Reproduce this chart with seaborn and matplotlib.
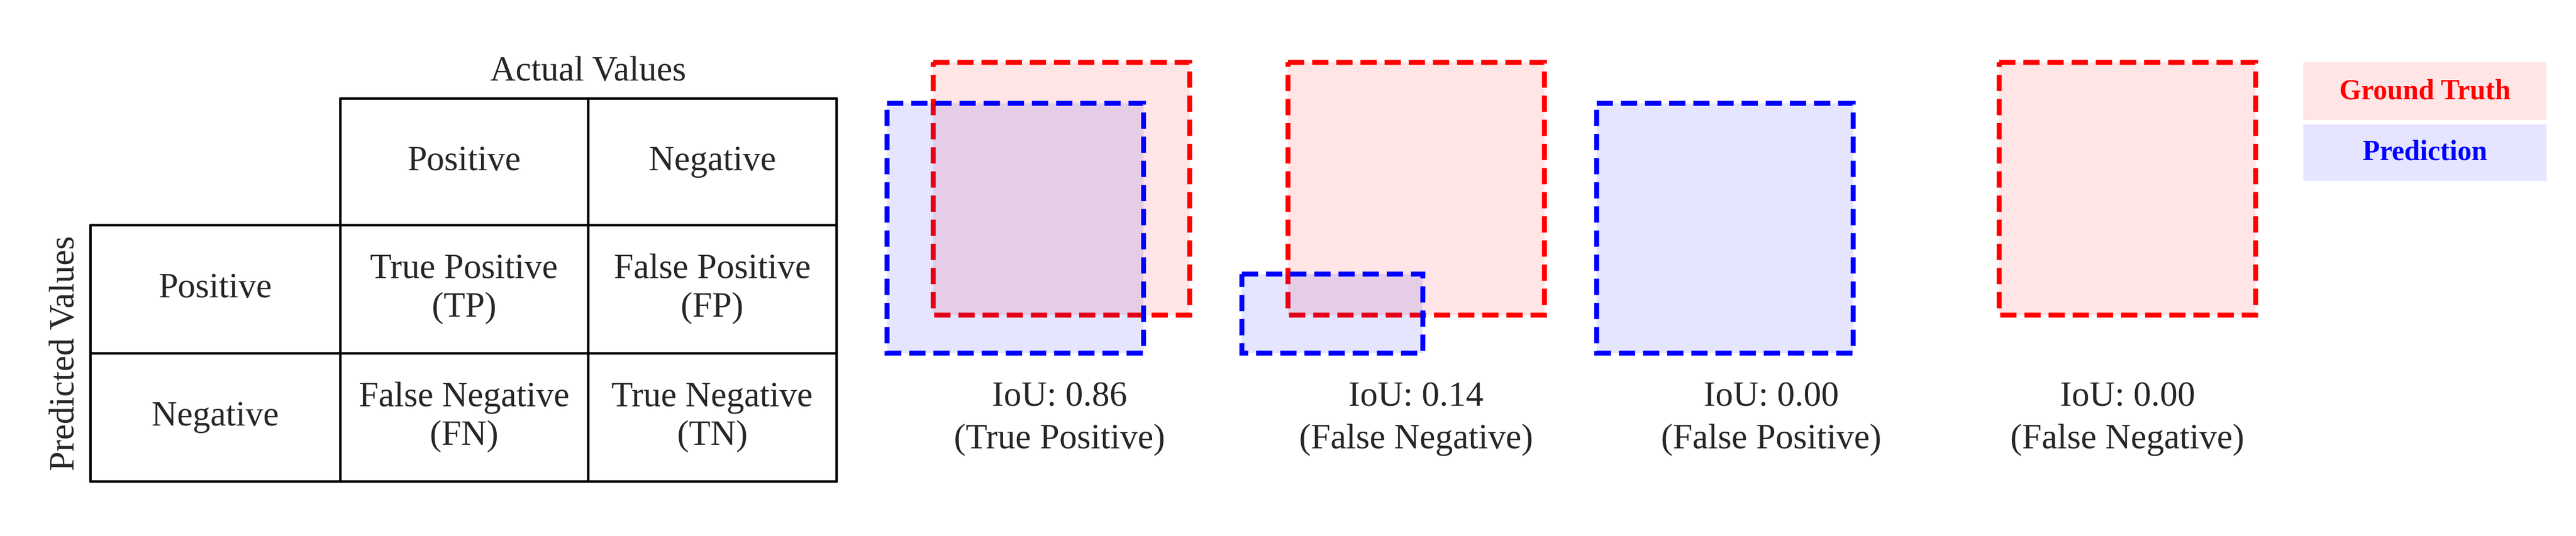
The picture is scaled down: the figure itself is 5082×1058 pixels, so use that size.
import matplotlib
matplotlib.use("Agg")
import matplotlib.pyplot as plt
from matplotlib.patches import Rectangle
import seaborn as sns

# confusion matrix text
col_labels = ["Positive", "Negative"]
row_labels = ["Positive", "Negative"]
cells = [["True Positive\n(TP)", "False Positive\n(FP)"],
         ["False Negative\n(FN)", "True Negative\n(TN)"]]

# IoU panels, boxes as (x0, y0, x1, y1) in canvas units (y down)
gt_boxes = [(568, 38, 724, 192), (784, 38, 940, 192), None, (1217, 38, 1373, 192)]
pred_boxes = [(540, 63, 696, 215), (756, 167, 866, 215), (972, 63, 1128, 215), None]
iou_values = [0.86, 0.14, 0.00, 0.00]
outcomes = ["True Positive", "False Negative", "False Positive", "False Negative"]
label_x = [645, 862, 1078, 1295]

sns.set_theme(style="white")
plt.rcParams["font.family"] = ["Liberation Serif", "DejaVu Serif"]

fig = plt.figure(figsize=(50.82, 10.58), dpi=100)
ax = fig.add_axes([0, 0, 1, 1])
ax.set_xlim(0, 1568)
ax.set_ylim(326.4, 0)
ax.axis("off")

FS = 50
# table grid
xs = [55, 207, 358, 509]
ys = [60, 137, 215, 293]
lw = 3.5
ax.plot([207, 509], [60, 60], color="black", lw=lw)
ax.plot([55, 509], [137, 137], color="black", lw=lw)
ax.plot([55, 509], [215, 215], color="black", lw=lw)
ax.plot([55, 509], [293, 293], color="black", lw=lw)
for x in (207, 358, 509):
    ax.plot([x, x], [60, 293], color="black", lw=lw)
ax.plot([55, 55], [137, 293], color="black", lw=lw)

ax.text(358, 44, "Actual Values", ha="center", va="center", fontsize=FS)
ax.text(40, 215, "Predicted Values", ha="center", va="center", rotation=90, fontsize=FS)
for j, lab in enumerate(col_labels):
    ax.text((xs[j + 1] + xs[j + 2]) / 2, (ys[0] + ys[1]) / 2, lab,
            ha="center", va="center", fontsize=FS)
for i, lab in enumerate(row_labels):
    yc = (ys[i + 1] + ys[i + 2]) / 2
    ax.text((xs[0] + xs[1]) / 2, yc, lab, ha="center", va="center", fontsize=FS)
    for j in range(2):
        ax.text((xs[j + 1] + xs[j + 2]) / 2, yc, cells[i][j], ha="center",
                va="center", fontsize=FS, linespacing=1.25)

dash = (0, (3.3, 1.6))


def draw_box(b, color):
    x0, y0, x1, y1 = b
    ax.add_patch(Rectangle((x0, y0), x1 - x0, y1 - y0, facecolor=color,
                           alpha=0.1, edgecolor="none"))
    ax.add_patch(Rectangle((x0, y0), x1 - x0, y1 - y0, facecolor="none",
                           edgecolor=color, lw=7, linestyle=dash))


for g, p, v, o, lx in zip(gt_boxes, pred_boxes, iou_values, outcomes, label_x):
    if g is not None:
        draw_box(g, "red")
    if p is not None:
        draw_box(p, "blue")
    ax.text(lx, 242, f"IoU: {v:.2f}", ha="center", va="center", fontsize=FS)
    ax.text(lx, 268, f"({o})", ha="center", va="center", fontsize=FS)

# legend
ax.add_patch(Rectangle((1402, 38), 148, 35, facecolor="red", alpha=0.1, edgecolor="none"))
ax.add_patch(Rectangle((1402, 76), 148, 34, facecolor="blue", alpha=0.1, edgecolor="none"))
ax.text(1476, 56, "Ground Truth", ha="center", va="center", fontsize=40,
        color="red", fontweight="bold")
ax.text(1476, 93, "Prediction", ha="center", va="center", fontsize=40,
        color="blue", fontweight="bold")

fig.savefig("out.png", dpi=100)
